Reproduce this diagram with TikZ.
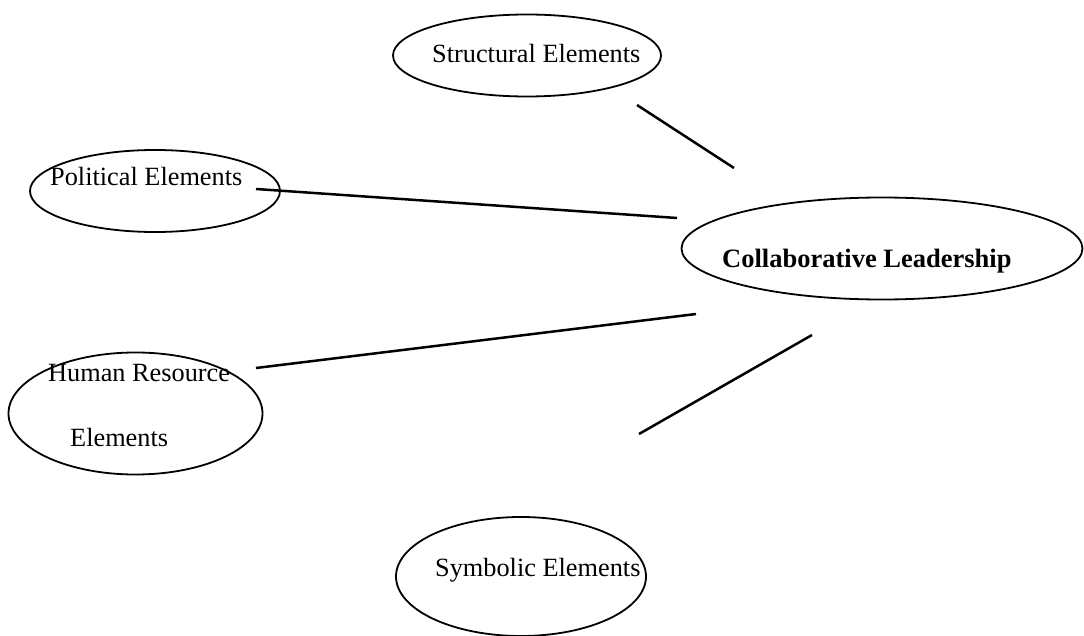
\documentclass[tikz,border=0pt]{standalone}
\usepackage{fontspec}
\setmainfont{Liberation Serif}
\usetikzlibrary{shapes.geometric}
\begin{document}
\begin{tikzpicture}[x=1pt,y=-1pt,
  oval/.style={draw=black, line width=1.8pt, shape=ellipse, inner sep=0pt, outer sep=0pt},
  lbl/.style={anchor=base west, inner sep=0pt, font=\fontsize{26.3}{30}\selectfont},
  blbl/.style={lbl, font=\fontsize{26.5}{30}\selectfont\bfseries},
  link/.style={draw=black, line width=2.5pt}]
\useasboundingbox (0,0) rectangle (1084,636);
% ellipses
\node[oval, minimum width=268pt, minimum height=82pt] (structural) at (527,55.5) {};
\node[oval, minimum width=250pt, minimum height=82pt] (political) at (155,191) {};
\node[oval, minimum width=401pt, minimum height=102pt] (collab) at (882,248.5) {};
\node[oval, minimum width=254pt, minimum height=122pt] (human) at (135.5,413.5) {};
\node[oval, minimum width=250pt, minimum height=119pt] (symbolic) at (521,576.5) {};
% labels
\node[lbl] (structuraltext) at (432,63) {Structural Elements};
\node[lbl] (politicaltext) at (50,186) {Political Elements};
\node[blbl] (collabtext) at (722,268) {Collaborative Leadership};
\node[lbl] (humantext1) at (48,381) {Human Resource};
\node[lbl] (humantext2) at (70,446) {Elements};
\node[lbl] (symbolictext) at (435,576) {Symbolic Elements};
% free connector ends
\coordinate (s1) at (637,105);
\coordinate (s2) at (734,168);
\coordinate (p1) at (256,189);
\coordinate (p2) at (677,218);
\coordinate (h1) at (256,368);
\coordinate (h2) at (696,314);
\coordinate (y1) at (812,335);
\coordinate (y2) at (639,434);
\draw[link] (s1) -- (s2);
\draw[link] (p1) -- (p2);
\draw[link] (h1) -- (h2);
\draw[link] (y1) -- (y2);
\end{tikzpicture}
\end{document}
